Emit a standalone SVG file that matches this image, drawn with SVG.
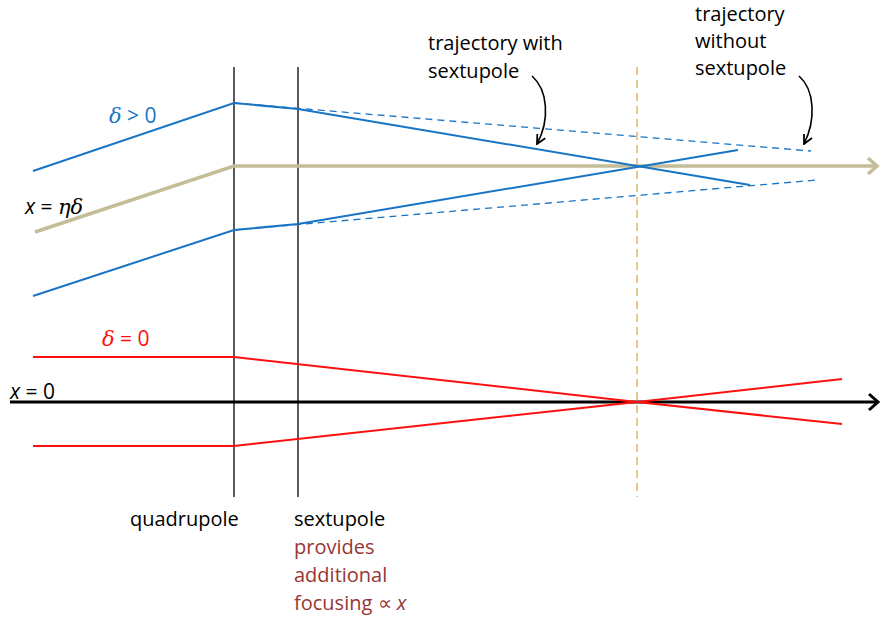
<svg xmlns="http://www.w3.org/2000/svg" width="882" height="622" viewBox="0 0 882 622">
<style>
text{font-family:"Open Sans","Liberation Sans",sans-serif;font-size:20px;fill:#000}
.m{font-size:21px}
.blue{stroke:#1874C4;stroke-width:2;fill:none}
.bdash{stroke:#1874C4;stroke-width:1.3;fill:none;stroke-dasharray:7,5}
.red{stroke:#FF1010;stroke-width:2;fill:none}
.tan{stroke:#C4BD97;stroke-width:3.5;fill:none}
.elem{stroke:#000;stroke-width:1.3;fill:none}
.axis{stroke:#000;stroke-width:3;fill:none}
.note{stroke:#000;stroke-width:1.6;fill:none}
.i{font-style:italic}
.g{font-family:"DejaVu Serif","Liberation Serif",serif;font-style:italic}
</style>
<defs>
<marker id="ah2" viewBox="0 0 10 10" refX="9" refY="5" markerWidth="7" markerHeight="7" orient="auto" markerUnits="strokeWidth">
<path d="M1,1 L9,5 L1,9" fill="none" stroke="#000" stroke-width="1.6"/>
</marker>
</defs>
<g id="elements">
<line id="quadrupole" class="elem" x1="234" y1="67" x2="234" y2="497"/>
<line id="sextupole" class="elem" x1="298" y1="67" x2="298" y2="497"/>
<line id="focal-plane" x1="637" y1="67" x2="637" y2="497" stroke="#E2B76A" stroke-width="1.5" stroke-dasharray="8,5"/>
</g>
<g id="connectors">
<polyline class="tan" points="35,232 234,166 876,166"/>
<path d="M868,158 L877,166 L868,174" fill="none" stroke="#C4BD97" stroke-width="3.5"/>
<line class="axis" x1="10" y1="402" x2="877" y2="402"/>
<path d="M869,394 L878,402 L869,410" fill="none" stroke="#000" stroke-width="3"/>
<line class="bdash" x1="234" y1="103" x2="811" y2="151"/>
<line class="bdash" x1="234" y1="230" x2="817" y2="180"/>
<polyline class="blue" points="33,171 234,103 298,109 750,185"/>
<polyline class="blue" points="33,296 234,230 298,224 738,150"/>
<polyline class="red" points="33,357 234,357 637,402 842,424"/>
<polyline class="red" points="33,446 234,446 637,402 842,379"/>
<path class="note" d="M532,76 C548,90 550,120 537,144" marker-end="url(#ah2)"/>
<path class="note" d="M799,76 C815,90 816,120 804,144" marker-end="url(#ah2)"/>
</g>
<g id="labels">
<text class="m" x="109" y="123" style="fill:#1874C4"><tspan class="g">δ</tspan> &gt; 0</text>
<text class="m" x="25" y="214"><tspan class="i">x</tspan> = <tspan class="g">ηδ</tspan></text>
<text class="m" x="102" y="346" style="fill:#FF1010"><tspan class="g">δ</tspan> = 0</text>
<text class="m" x="10" y="399"><tspan class="i">x</tspan> = 0</text>
<text x="130" y="526">quadrupole</text>
<text x="294" y="526">sextupole</text>
<text x="294" y="554" style="fill:#953735">provides</text>
<text x="294" y="582" style="fill:#953735">additional</text>
<text x="294" y="610" style="fill:#953735">focusing ∝ <tspan class="i">x</tspan></text>
<text x="428" y="50">trajectory with</text>
<text x="428" y="78">sextupole</text>
<text x="695" y="21">trajectory</text>
<text x="695" y="48">without</text>
<text x="695" y="75">sextupole</text>
</g>
</svg>
